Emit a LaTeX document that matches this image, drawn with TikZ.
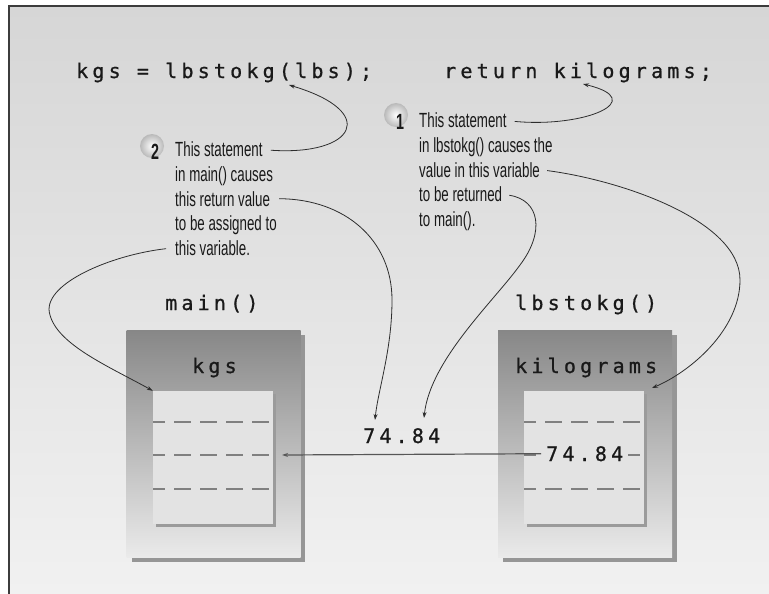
\documentclass[tikz,border=0pt]{standalone}
\usepackage{fontspec}
\setmainfont{Liberation Sans}
\newfontfamily\codefont{DejaVu Sans Mono}[LetterSpace=21,FakeBold=0.8]
\newfontfamily\notefont{Liberation Sans}[FakeStretch=0.65]
\usepackage{tikz}
\usetikzlibrary{arrows.meta,positioning,calc}
\definecolor{ink}{RGB}{25,25,25}
\definecolor{wire}{RGB}{45,45,45}
\definecolor{bgtop}{RGB}{214,214,214}
\definecolor{bgbot}{RGB}{241,241,241}
\definecolor{rim}{RGB}{60,60,60}
\definecolor{boxtop}{RGB}{135,135,135}
\definecolor{boxmid}{RGB}{200,200,200}
\definecolor{boxbot}{RGB}{234,234,234}
\definecolor{boxedge}{RGB}{150,150,150}
\definecolor{cellfill}{RGB}{227,227,227}
\definecolor{celledge}{RGB}{155,155,155}
\definecolor{dashcol}{RGB}{128,128,128}

\begin{document}
\begin{tikzpicture}[x=1pt,y=-1pt,
    code/.style={font=\codefont\fontsize{20}{24}\selectfont, text=ink, inner sep=0pt, anchor=base west},
    note/.style={font=\notefont\fontsize{20.5}{22}\selectfont, text=ink, inner sep=0pt, anchor=base west},
    badge/.style={font=\notefont\bfseries\fontsize{22}{24}\selectfont, text=ink, inner sep=0pt, anchor=base},
    frame/.style={minimum width=174pt, minimum height=227pt, inner sep=0pt,
        top color=boxtop, middle color=boxmid, bottom color=boxbot},
    cell/.style={minimum width=120pt, minimum height=133pt, inner sep=0pt, fill=cellfill},
    callout/.style={draw=wire, line width=0.8pt, -{Stealth[length=6pt,width=4pt]}},
    cutline/.style={draw=dashcol, line width=1.2pt, dash pattern=on 17pt off 9pt, dash phase=5pt}]

    \useasboundingbox (0,0) rectangle (769,594);

    % page and rim
    \fill[white] (0,0) rectangle (769,594);
    \shade[top color=bgtop, bottom color=bgbot] (9,6) rectangle (769,594);
    \draw[rim, line width=1.5pt] (9,594) -- (9,6) -- (769,6);

    % code lines
    \node[code] (call) at (76,78) {kgs = lbstokg(lbs);};
    \node[code] (ret) at (444,78) {return kilograms;};

    % function frames (edge first)
    \fill[boxedge] (132,335) rectangle (305,562);
    \fill[boxedge] (503,335) rectangle (677,562);
    \node[frame] (mainfr) at (213.5,443.5) {};
    \node[frame] (convfr) at (585,443.5) {};
    \node[code] (mainlbl) at (165,310) {main()};
    \node[code] (convlbl) at (515,310) {lbstokg()};
    \node[code] (kgslbl) at (192,373) {kgs};
    \node[code] (kglbl) at (515,373) {kilograms};

    % memory cells
    \fill[celledge] (156,394) rectangle (276,527);
    \fill[celledge] (527,394) rectangle (647,527);
    \node[cell] (kgscell) at (213,457.5) {};
    \node[cell] (kgcell) at (584,457.5) {};
    \foreach \y in {422,455,489} {
        \draw[cutline] (153,\y) -- (273,\y);
        \draw[cutline] (524,\y) -- (644,\y);
    }

    % values
    \node[code, fill=cellfill, inner xsep=5pt] (valcell) at (541,461) {74.84};
    \node[code] (valmid) at (363,443) {74.84};

    % badges
    \shade[inner color=white, outer color=gray!55] (152,146) circle (12);
    \shade[inner color=white, outer color=gray!55] (396,115) circle (12);
    \node[badge] (b2) at (155,159) {2};
    \node[badge] (b1) at (400,129) {1};

    % note 2
    \node[note] (n2a) at (175,157) {This statement};
    \node[note] (n2b) at (175,181.5) {in main() causes};
    \node[note] (n2c) at (175,206) {this return value};
    \node[note] (n2d) at (175,230.5) {to be assigned to};
    \node[note] (n2e) at (175,255) {this variable.};

    % note 1
    \node[note] (n1a) at (419,128) {This statement};
    \node[note] (n1b) at (419,152.5) {in lbstokg() causes the};
    \node[note] (n1c) at (419,177) {value in this variable};
    \node[note] (n1d) at (419,201.5) {to be returned};
    \node[note] (n1e) at (419,226) {to main().};

    % arrow ends
    \coordinate (tipcall) at (289,85);
    \coordinate (tipret) at (583,84);
    \coordinate (tipmid) at (375,420);
    \coordinate (tipval) at (424,418);
    \coordinate (tipkg) at (652,388);
    \coordinate (tipkgs) at (282,455);

    % callouts
    \draw[callout, shorten <=8pt] (n2a.east) .. controls (355,156) and (380,112) .. (tipcall);
    \draw[callout, shorten <=9pt] (n2c.east) .. controls (345,199) and (392,240) .. (392,300)
        .. controls (392,350) and (378,390) .. (tipmid);
    \draw[callout, shorten <=9pt] (n2e.west) .. controls (110,255) and (40,285) .. (50,315)
        .. controls (58,345) and (110,367) .. (kgscell.north west);
    \draw[callout, shorten <=8pt] (n1a.east) .. controls (585,128) and (650,100) .. (tipret);
    \draw[callout, shorten <=7pt] (n1c.east) .. controls (620,180) and (740,220) .. (740,280)
        .. controls (740,330) and (690,372) .. (tipkg);
    \draw[callout, shorten <=7pt] (n1d.east) .. controls (540,200) and (545,232) .. (520,265)
        .. controls (495,300) and (430,360) .. (tipval);

    % returned value
    \draw[draw=wire!80, line width=1.2pt, -{Stealth[length=6pt,width=4pt]}] (valcell.west) -- (tipkgs);
\end{tikzpicture}
\end{document}
